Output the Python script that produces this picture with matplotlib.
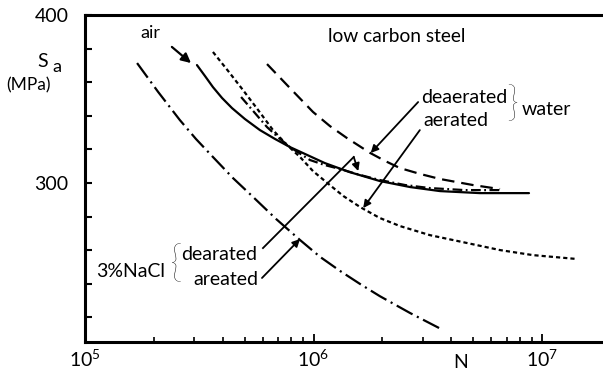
import matplotlib
matplotlib.use("Agg")
import matplotlib.pyplot as plt
from matplotlib.ticker import FixedLocator, NullFormatter, FixedFormatter

plt.rcParams['font.family'] = ['Lato', 'DejaVu Sans']
plt.rcParams['mathtext.fontset'] = 'custom'
plt.rcParams['mathtext.rm'] = 'Lato'
plt.rcParams['mathtext.it'] = 'Lato'
plt.rcParams['lines.scale_dashes'] = False

# ---- data (N cycles, stress amplitude S_a in MPa) ----
air_N = [3.09e5, 3.35e5, 3.63e5, 3.98e5, 4.40e5, 5.01e5, 5.83e5, 6.79e5, 7.89e5,
         9.18e5, 1.12e6, 1.44e6, 1.95e6, 2.65e6, 3.58e6, 5.35e6, 8.77e6]
air_S = [370.2, 363.7, 357.1, 350.6, 344.6, 338.1, 331.5, 326.2, 321.4,
         317.3, 311.9, 306.5, 301.2, 297.6, 295.2, 294.0, 294.0]

water_deaer_N = [6.26e5, 7.89e5, 9.95e5, 1.18e6, 1.40e6, 1.77e6, 2.06e6, 2.39e6,
                 2.93e6, 3.58e6, 4.99e6, 6.55e6]
water_deaer_S = [370.8, 356.5, 342.3, 333.9, 326.8, 317.9, 313.1, 308.9,
                 305.4, 302.4, 298.8, 296.4]

water_aer_N = [3.63e5, 4.23e5, 4.91e5, 5.72e5, 6.65e5, 7.66e5, 8.73e5, 9.95e5, 1.15e6,
               1.35e6, 1.60e6, 1.95e6, 2.39e6, 3.23e6, 4.70e6, 6.55e6, 9.13e6, 1.42e7]
water_aer_S = [378.0, 366.7, 355.4, 343.5, 331.5, 322.6, 315.5, 307.1, 300.0,
               292.3, 285.7, 279.2, 274.4, 269.0, 264.3, 260.1, 257.1, 254.8]

nacl_deaer_N = [4.82e5, 5.49e5, 6.26e5, 7.06e5, 7.89e5, 9.65e5, 1.12e6, 1.31e6,
                1.60e6, 1.95e6, 2.52e6, 3.23e6, 4.60e6, 6.55e6]
nacl_deaer_S = [351.2, 342.3, 333.3, 326.8, 321.4, 313.7, 310.7, 308.3,
                304.8, 301.8, 298.8, 297.0, 295.8, 295.8]

nacl_aer_N = [1.69e5, 2.09e5, 2.60e5, 3.06e5, 3.63e5, 4.44e5, 5.44e5, 6.86e5,
              8.73e5, 1.07e6, 1.31e6, 1.60e6, 1.95e6, 2.65e6, 3.69e6]
nacl_aer_S = [371.4, 354.2, 337.5, 326.2, 315.5, 303.0, 291.7, 278.6,
              266.1, 256.0, 247.6, 239.9, 232.7, 222.6, 212.5]

x_major = [1e5, 1e6, 1e7]
x_major_labels = [r'$10^{5}$', r'$10^{6}$', r'$10^{7}$']
x_minor = [2e5, 3e5, 4e5, 5e5, 6e5, 7e5, 8e5, 9e5,
           2e6, 3e6, 4e6, 5e6, 6e6, 7e6, 8e6, 9e6]
y_major = [300, 400]
y_minor = [220, 240, 260, 280, 320, 340, 360, 380]

W, H = 603, 374
fig = plt.figure(figsize=(W / 100, H / 100), dpi=100)
ax = fig.add_axes([85 / W, 1 - 342 / H, (W - 85) / W, (342 - 15) / H])
ax.set_xscale('log')
ax.set_xlim(1e5, 10 ** (5 + 518 / 228.5))
ax.set_ylim(205.4, 400)

lw = 1.6
ax.plot(air_N, air_S, color='black', lw=lw, solid_capstyle='round', solid_joinstyle='round')
ax.plot(water_deaer_N, water_deaer_S, color='black', lw=lw, dashes=(9, 5))
ax.plot(water_aer_N, water_aer_S, color='black', lw=lw, dashes=(3, 2.2))
ax.plot(nacl_deaer_N, nacl_deaer_S, color='black', lw=lw, dashes=(7, 2.5, 1.3, 2.5))
ax.plot(nacl_aer_N, nacl_aer_S, color='black', lw=lw, dashes=(13, 3.5, 1.5, 3.5))

# spines
ax.spines['right'].set_visible(False)
for s in ['left', 'bottom', 'top']:
    ax.spines[s].set_linewidth(2.2)

ax.xaxis.set_major_locator(FixedLocator(x_major))
ax.xaxis.set_major_formatter(FixedFormatter(x_major_labels))
ax.xaxis.set_minor_locator(FixedLocator(x_minor))
ax.xaxis.set_minor_formatter(NullFormatter())
ax.yaxis.set_major_locator(FixedLocator(y_major))
ax.yaxis.set_minor_locator(FixedLocator(y_minor))
ax.yaxis.set_minor_formatter(NullFormatter())
ax.tick_params(axis='x', which='major', direction='in', length=6, width=1.3,
               labelsize=14, pad=5, top=False)
ax.tick_params(axis='x', which='minor', direction='in', length=3.5, width=1.2, top=False)
ax.tick_params(axis='y', which='both', direction='in', length=5, width=1.5,
               labelsize=14, pad=12, right=False)

# text placed in pixel coordinates of the reference
def ftext(x, y, s, **kw):
    fig.text(x / W, 1 - y / H, s, **kw)

ftext(140, 38, 'air', fontsize=13, va='baseline')
ftext(328, 42, 'low carbon steel', fontsize=13.8, va='baseline')
ftext(421, 103, 'deaerated', fontsize=14, va='baseline')
ftext(423, 126, 'aerated', fontsize=14, va='baseline')
ftext(512, 105, '}', fontsize=30, va='center', ha='center', fontweight='light')
ftext(522, 115, 'water', fontsize=14, va='baseline')
ftext(96, 277, '3%NaCl', fontsize=14, va='baseline')
ftext(176, 265, '{', fontsize=31, va='center', ha='center', fontweight='light')
ftext(257, 260, 'dearated', fontsize=14, va='baseline', ha='right')
ftext(258, 285, 'areated', fontsize=14, va='baseline', ha='right')
ftext(37, 67, 'S', fontsize=14, va='baseline')
ftext(52, 72, 'a', fontsize=13, va='baseline')
ftext(6, 90, '(MPa)', fontsize=12.5, va='baseline')
ftext(461, 368, 'N', fontsize=14, va='baseline', ha='center')

# arrows
ap = dict(arrowstyle='-|>', color='black', lw=1.3, mutation_scale=11,
          shrinkA=0, shrinkB=0)
ax.annotate('', xy=(2.91e5, 371.4), xytext=(2.40e5, 381),
            arrowprops=dict(ap, lw=1.6, mutation_scale=14))
ax.annotate('', xy=(1.78e6, 317.9), xytext=(2.87e6, 348.2), arrowprops=ap)
ax.annotate('', xy=(1.65e6, 285.1), xytext=(2.92e6, 331.5), arrowprops=ap)
ax.plot([6.01e5, 1.50e6], [261.3, 315.5], color='black', lw=1.3)
ax.annotate('', xy=(1.57e6, 307.1), xytext=(1.50e6, 315.5), arrowprops=ap)
ax.annotate('', xy=(8.73e5, 266.7), xytext=(5.95e5, 243.5), arrowprops=ap)

fig.savefig('out.png', dpi=100)
